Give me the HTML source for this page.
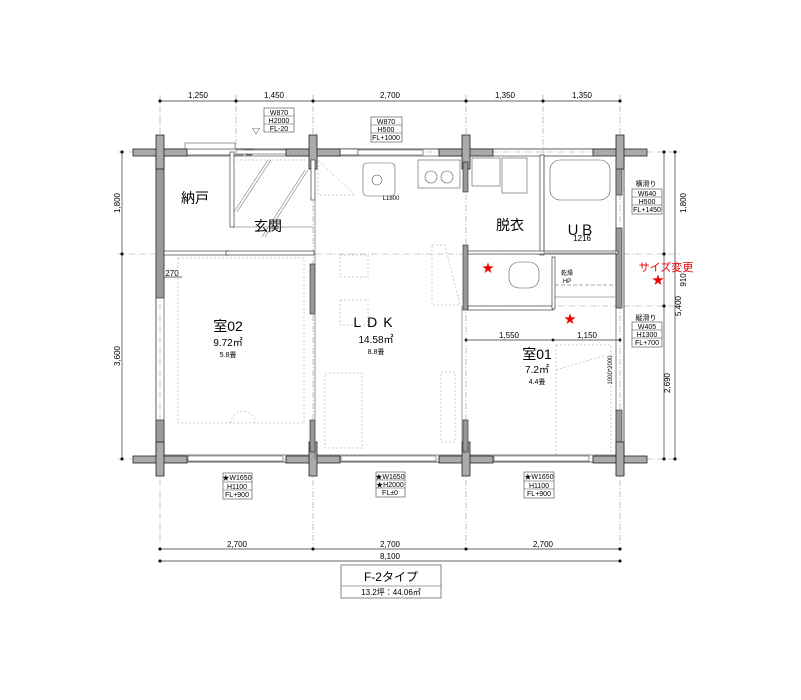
<!DOCTYPE html>
<html><head><meta charset="utf-8"><style>
html,body{margin:0;padding:0;background:#fff}
svg{display:block;font-family:"Liberation Sans","Noto Sans CJK JP",sans-serif}
</style></head><body>
<svg width="801" height="700" viewBox="0 0 801 700" xmlns="http://www.w3.org/2000/svg">
<defs>
<g id="col"><rect x="-27" y="-3" width="54" height="7" fill="#aaa" stroke="#222" stroke-width="0.8"/><rect x="-4" y="-17" width="8" height="34" fill="#aaa" stroke="#222" stroke-width="0.8"/><rect x="-3.5" y="-2.5" width="7" height="6" fill="#aaa"/></g>
</defs>
<!-- grid / extension lines -->
<g stroke="#999" stroke-width="0.6" stroke-dasharray="6,2,1,2" fill="none">
<line x1="160" y1="95" x2="160" y2="545"/><line x1="313" y1="95" x2="313" y2="545"/><line x1="466" y1="95" x2="466" y2="545"/><line x1="620" y1="95" x2="620" y2="545"/>
<line x1="236" y1="95" x2="236" y2="150"/><line x1="543" y1="95" x2="543" y2="160"/>
<line x1="118" y1="152" x2="680" y2="152"/><line x1="118" y1="254" x2="680" y2="254"/><line x1="470" y1="306" x2="680" y2="306"/><line x1="118" y1="459" x2="680" y2="459"/>
</g>
<!-- top dims -->
<g stroke="#333" stroke-width="0.7" fill="#000">
<line x1="160" y1="101" x2="620" y2="101"/>
<circle cx="160" cy="101" r="1.3"/><circle cx="236" cy="101" r="1.3"/><circle cx="313" cy="101" r="1.3"/><circle cx="466" cy="101" r="1.3"/><circle cx="543" cy="101" r="1.3"/><circle cx="620" cy="101" r="1.3"/>
<line x1="122" y1="152" x2="122" y2="459"/><circle cx="122" cy="152" r="1.3"/><circle cx="122" cy="254" r="1.3"/><circle cx="122" cy="459" r="1.3"/>
<line x1="664" y1="152" x2="664" y2="459"/><circle cx="664" cy="152" r="1.3"/><circle cx="664" cy="254" r="1.3"/><circle cx="664" cy="306" r="1.3"/><circle cx="664" cy="459" r="1.3"/>
<line x1="675" y1="152" x2="675" y2="459"/><circle cx="675" cy="152" r="1.3"/><circle cx="675" cy="459" r="1.3"/>
<line x1="160" y1="549" x2="620" y2="549"/><circle cx="160" cy="549" r="1.3"/><circle cx="313" cy="549" r="1.3"/><circle cx="466" cy="549" r="1.3"/><circle cx="620" cy="549" r="1.3"/>
<line x1="160" y1="561" x2="620" y2="561"/><circle cx="160" cy="561" r="1.3"/><circle cx="620" cy="561" r="1.3"/>
<line x1="466" y1="340" x2="620" y2="340"/><circle cx="466" cy="340" r="1.1"/><circle cx="553" cy="340" r="1.1"/><circle cx="620" cy="340" r="1.1"/>
<line x1="163" y1="277" x2="182" y2="277"/>
</g>
<g font-size="8" fill="#000" text-anchor="middle">
<text x="198" y="98">1,250</text><text x="274" y="98">1,450</text><text x="390" y="98">2,700</text><text x="505" y="98">1,350</text><text x="582" y="98">1,350</text>
<text x="237" y="547">2,700</text><text x="390" y="547">2,700</text><text x="543" y="547">2,700</text><text x="390" y="559">8,100</text>
<text x="509" y="338">1,550</text><text x="587" y="338">1,150</text><text x="172" y="276">270</text>
<text transform="translate(120,203) rotate(-90)">1,800</text><text transform="translate(120,356) rotate(-90)">3,600</text>
<text transform="translate(686,203) rotate(-90)">1,800</text><text transform="translate(686,280) rotate(-90)">910</text>
<text transform="translate(681,306) rotate(-90)">5,400</text><text transform="translate(670,383) rotate(-90)">2,690</text>
<text transform="translate(612,370) rotate(-90)" font-size="6">1000*2000</text>
</g>
<!-- exterior walls -->
<g fill="none" stroke="#333" stroke-width="0.8">
<rect x="156" y="149" width="468" height="313"/>
<rect x="164" y="156" width="452" height="299" stroke="#666"/>
</g>
<g fill="#999" stroke="#222" stroke-width="0.6">
<rect x="156" y="158" width="8" height="140"/><rect x="156" y="420" width="8" height="35"/>
<rect x="616" y="160" width="6" height="35"/><rect x="616" y="228" width="6" height="80"/><rect x="616" y="410" width="6" height="45"/>
<rect x="186" y="149" width="57" height="6" fill="#fff"/><rect x="246" y="149" width="6" height="6"/>
<rect x="333" y="149" width="25" height="6" fill="#fff"/>
</g>
<!-- windows thin -->
<g stroke="#555" stroke-width="0.6" fill="#fff">
<rect x="236" y="150" width="77" height="4"/><rect x="358" y="150" width="65" height="5"/><rect x="185" y="143" width="50" height="6"/>
<rect x="188" y="456" width="95" height="5"/><rect x="341" y="456" width="95" height="5"/><rect x="494" y="456" width="95" height="5"/>
</g>
<use href="#col" x="160" y="152"/><use href="#col" x="313" y="152"/><use href="#col" x="466" y="152"/><use href="#col" x="620" y="152"/>
<use href="#col" x="160" y="459"/><use href="#col" x="313" y="459"/><use href="#col" x="466" y="459"/><use href="#col" x="620" y="459"/>
<!-- interior walls -->
<g fill="#999" stroke="#222" stroke-width="0.6">
<rect x="230" y="152" width="4" height="75" fill="#fff"/>
<rect x="311" y="160" width="4" height="40" fill="#fff"/>
<rect x="164" y="251" width="65" height="4" fill="#fff"/><rect x="226" y="251" width="88" height="4" fill="#fff"/>
<rect x="310" y="264" width="5" height="50"/><rect x="310" y="420" width="5" height="32"/>
<rect x="463" y="162" width="5" height="30"/><rect x="463" y="245" width="5" height="65"/><rect x="463" y="420" width="5" height="32"/>
<rect x="468" y="306" width="85" height="4" fill="#fff"/>
<rect x="540" y="155" width="4" height="100" fill="#fff"/>
<rect x="468" y="251" width="150" height="3" fill="#fff"/>
<rect x="552" y="257" width="3" height="52" fill="#fff"/>
</g>
<g fill="none" stroke="#555" stroke-width="0.6">
<line x1="315" y1="200" x2="315" y2="459"/><line x1="462" y1="306" x2="462" y2="459"/><line x1="232" y1="227" x2="313" y2="227"/>
<rect x="544" y="156" width="72" height="97"/><rect x="550" y="160" width="60" height="40" rx="10"/>
<rect x="418" y="160" width="42" height="28"/><circle cx="431" cy="177" r="6"/><circle cx="447" cy="177" r="6"/>
<rect x="363" y="163" width="32" height="33" rx="4"/><circle cx="377" cy="180" r="5"/>
<rect x="472" y="158" width="28" height="28"/><rect x="502" y="158" width="25" height="35"/>
<rect x="509" y="262" width="30" height="26" rx="10"/>
<line x1="555" y1="285" x2="615" y2="285" stroke-dasharray="4,2"/><line x1="555" y1="297" x2="615" y2="297"/>
</g>
<g fill="none" stroke="#999" stroke-width="0.5" stroke-dasharray="2,2">
<rect x="178" y="258" width="126" height="165"/><path d="M231,423 A12,12 0 0 1 255,423"/>
<rect x="340" y="255" width="28" height="22"/><rect x="340" y="300" width="28" height="25"/>
<rect x="325" y="373" width="37" height="75"/><rect x="441" y="372" width="14" height="70"/>
<polyline points="432,245 445,245 460,305 432,305 432,245"/><polyline points="556,370 606,355"/><rect x="556" y="345" width="55" height="110"/>
<polyline points="318,160 355,195 318,195 318,160"/>
<line x1="236" y1="160" x2="305" y2="160"/>
</g>
<g stroke="#777" stroke-width="0.6"><line x1="234" y1="212" x2="268" y2="160"/><line x1="262" y1="237" x2="305" y2="170"/><line x1="237" y1="212" x2="271" y2="160"/><line x1="265" y1="237" x2="308" y2="170"/></g>
<!-- labels -->
<g text-anchor="middle" fill="#000">
<text x="195" y="203" font-size="14">納戸</text><text x="268" y="231" font-size="14">玄関</text>
<text x="510" y="230" font-size="14">脱衣</text><text x="580" y="235" font-size="14">ＵＢ</text><text x="582" y="241" font-size="8">1216</text>
<text x="228" y="331" font-size="14">室02</text><text x="228" y="346" font-size="10">9.72㎡</text><text x="228" y="357" font-size="7">5.8畳</text>
<text x="376" y="327" font-size="14" letter-spacing="6">LDK</text><text x="376" y="343" font-size="10">14.58㎡</text><text x="376" y="354" font-size="7">8.8畳</text>
<text x="537" y="359" font-size="14">室01</text><text x="537" y="373" font-size="10">7.2㎡</text><text x="537" y="384" font-size="7">4.4畳</text>
<text x="391" y="200" font-size="6">L1800</text><text x="567" y="275" font-size="6">乾燥</text><text x="567" y="283" font-size="6">HP</text>
<text x="666" y="271" font-size="11" fill="#e00">サイズ変更</text>
<text x="646" y="186" font-size="7">横滑り</text><text x="646" y="320" font-size="7">縦滑り</text>
</g>
<g fill="#e00" font-size="12" text-anchor="middle"><text x="488" y="272">★</text><text x="658" y="284">★</text><text x="570" y="323">★</text></g>
<!-- spec boxes -->
<g fill="none" stroke="#444" stroke-width="0.6">
<rect x="264" y="108" width="30" height="24"/><line x1="264" y1="116" x2="294" y2="116"/><line x1="264" y1="124" x2="294" y2="124"/>
<rect x="371" y="117" width="31" height="25"/><line x1="371" y1="125" x2="402" y2="125"/><line x1="371" y1="133" x2="402" y2="133"/>
<rect x="632" y="189" width="30" height="25"/><line x1="632" y1="197" x2="662" y2="197"/><line x1="632" y1="205" x2="662" y2="205"/>
<rect x="632" y="322" width="30" height="25"/><line x1="632" y1="330" x2="662" y2="330"/><line x1="632" y1="338" x2="662" y2="338"/>
<rect x="223" y="473" width="29" height="26"/><line x1="223" y1="482" x2="252" y2="482"/><line x1="223" y1="490" x2="252" y2="490"/>
<rect x="376" y="472" width="29" height="25"/><line x1="376" y1="480" x2="405" y2="480"/><line x1="376" y1="488" x2="405" y2="488"/>
<rect x="524" y="472" width="30" height="26"/><line x1="524" y1="481" x2="554" y2="481"/><line x1="524" y1="489" x2="554" y2="489"/>
<rect x="341" y="565" width="100" height="33" stroke="#333"/><line x1="341" y1="586" x2="441" y2="586"/>
</g>
<g font-size="7" text-anchor="middle" fill="#000">
<text x="279" y="115">W870</text><text x="279" y="123">H2000</text><text x="279" y="131">FL-20</text>
<text x="386" y="124">W870</text><text x="386" y="132">H500</text><text x="386" y="140">FL+1000</text>
<text x="647" y="196">W640</text><text x="647" y="204">H500</text><text x="647" y="212">FL+1450</text>
<text x="647" y="329">W405</text><text x="647" y="337">H1300</text><text x="647" y="345">FL+700</text>
<text x="237" y="480">★W1650</text><text x="237" y="489">H1100</text><text x="237" y="497">FL+900</text>
<text x="390" y="479">★W1650</text><text x="390" y="487">★H2000</text><text x="390" y="495">FL±0</text>
<text x="539" y="479">★W1650</text><text x="539" y="488">H1100</text><text x="539" y="496">FL+900</text>
<text x="391" y="581" font-size="12">F-2タイプ</text><text x="391" y="595" font-size="8">13.2坪：44.06㎡</text>
<text x="256" y="134" font-size="8">▽</text>
</g>
</svg>
</body></html>
